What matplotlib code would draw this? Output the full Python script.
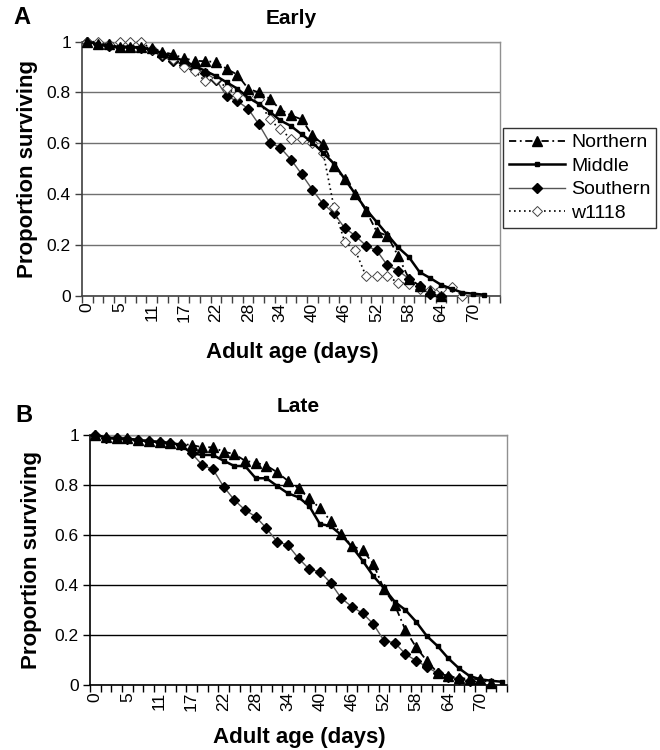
import numpy as np
import matplotlib
matplotlib.use('Agg')
import matplotlib.pyplot as plt

plt.rcParams['font.family'] = ['Liberation Sans', 'DejaVu Sans']

nan = np.nan

# adult age (days) for each census, Excel category axis
days = [0, 2, 3, 5, 7, 9, 11, 13, 15, 17, 18, 20, 22, 24, 26, 28, 30, 32, 34, 36,
        38, 40, 42, 44, 46, 48, 50, 52, 54, 56, 58, 60, 62, 64, 66, 68, 70, 72, 74]

# early season
north_early = [1.0, 0.99, 0.99, 0.98, 0.98, 0.98, 0.975, 0.96, 0.95, 0.935, 0.925, 0.923, 0.92,
               0.893, 0.87, 0.815, 0.80, 0.776, 0.733, 0.71, 0.694, 0.631, 0.596, 0.51, 0.459,
               0.40, 0.335, 0.252, 0.236, 0.156, 0.067, 0.04, 0.02, 0.0, nan, nan, nan, nan, nan]
middle_early = [1.0, 0.99, 0.98, 0.98, 0.98, 0.975, 0.97, 0.955, 0.94, 0.925, 0.905, 0.885, 0.865,
                0.84, 0.815, 0.78, 0.755, 0.725, 0.69, 0.668, 0.635, 0.603, 0.563, 0.52, 0.46,
                0.40, 0.34, 0.29, 0.24, 0.19, 0.152, 0.093, 0.069, 0.043, 0.027, 0.012, 0.008,
                0.004, nan]
south_early = [1.0, 0.99, 0.985, 0.98, 0.98, 0.975, 0.969, 0.942, 0.923, 0.91, 0.893, 0.877, 0.851,
               0.785, 0.766, 0.736, 0.675, 0.603, 0.583, 0.536, 0.478, 0.417, 0.361, 0.325, 0.267,
               0.236, 0.197, 0.178, 0.119, 0.099, 0.067, 0.038, 0.008, 0.0, nan, nan, nan, nan, nan]
w1118_early = [1.0, 1.0, 0.99, 1.0, 1.0, 1.0, 0.97, 0.95, 0.93, 0.90, 0.884, 0.845, 0.854, 0.818,
               0.79, 0.79, 0.773, 0.694, 0.655, 0.618, 0.618, 0.60, 0.563, 0.35, 0.213, 0.178,
               0.077, 0.077, 0.077, 0.051, 0.047, 0.027, 0.021, 0.027, 0.034, 0.0, nan, nan, nan]

# late season
north_late = [1.0, 0.993, 0.987, 0.987, 0.98, 0.977, 0.973, 0.967, 0.964, 0.96, 0.951, 0.951, 0.933,
              0.924, 0.897, 0.889, 0.878, 0.851, 0.817, 0.787, 0.747, 0.707, 0.657, 0.604, 0.556,
              0.54, 0.484, 0.383, 0.32, 0.22, 0.151, 0.097, 0.049, 0.036, 0.027, 0.025, 0.023,
              0.007, nan]
middle_late = [1.0, 0.99, 0.985, 0.985, 0.98, 0.975, 0.972, 0.968, 0.96, 0.927, 0.92, 0.92, 0.897,
               0.876, 0.876, 0.827, 0.827, 0.796, 0.767, 0.751, 0.716, 0.644, 0.636, 0.60, 0.553,
               0.497, 0.436, 0.387, 0.333, 0.30, 0.253, 0.196, 0.156, 0.107, 0.067, 0.036, 0.023,
               0.017, 0.013]
south_late = [1.0, 0.99, 0.987, 0.985, 0.98, 0.977, 0.972, 0.967, 0.96, 0.927, 0.88, 0.863, 0.793,
              0.74, 0.70, 0.673, 0.627, 0.573, 0.56, 0.507, 0.463, 0.453, 0.409, 0.347, 0.313,
              0.287, 0.244, 0.177, 0.169, 0.124, 0.097, 0.073, 0.047, 0.033, 0.023, 0.017,
              nan, nan, nan]

yticks = [0, 0.2, 0.4, 0.6, 0.8, 1.0]
ytick_labels = ['0', '0.2', '0.4', '0.6', '0.8', '1']


def draw_panel(ax, north, middle, south, w1118=None, grid_col='#707070', axis_col='#404040'):
    x = np.arange(len(days))
    ax.plot(x, south, color='#555555', lw=1.0, marker='D', ms=5, mfc='k', mec='k',
            label='Southern', clip_on=False, zorder=3)
    if w1118 is not None:
        ax.plot(x, w1118, color='k', ls=(0, (1, 2)), lw=1.2, marker='D', ms=5, mfc='white',
                mec='#444444', mew=0.7, label='w1118', clip_on=False, zorder=3)
    ax.plot(x, middle, color='k', lw=1.8, marker='s', ms=3, label='Middle', clip_on=False, zorder=4)
    ax.plot(x, north, color='k', ls=(0, (4, 2, 1, 2)), lw=1.3, marker='^', ms=6.5,
            label='Northern', clip_on=False, zorder=4)

    ax.set_xlim(-0.5, len(days) - 0.5)
    ax.set_ylim(0, 1)
    ax.set_yticks(yticks)
    ax.set_yticklabels(ytick_labels, fontsize=12.5)
    ax.yaxis.grid(True, color=grid_col, lw=1.0)
    ax.set_axisbelow(True)

    ax.set_xticks(np.arange(-0.5, len(days), 1))
    ax.set_xticklabels([])
    ax.set_xticks(np.arange(0, len(days), 3), minor=True)
    ax.set_xticklabels([str(d) for d in days[::3]][:13], minor=True, rotation=90, fontsize=12.5)
    ax.tick_params(axis='x', which='major', direction='out', length=5, width=1, color=axis_col)
    ax.tick_params(axis='x', which='minor', length=0, pad=5)
    ax.tick_params(axis='y', direction='out', length=5, width=1, color=axis_col, pad=3)

    for side in ['left', 'bottom']:
        ax.spines[side].set_color(axis_col)
        ax.spines[side].set_linewidth(1.2)
    for side in ['top', 'right']:
        ax.spines[side].set_color('#909090')
        ax.spines[side].set_linewidth(1.0)

    ax.set_ylabel('Proportion surviving', fontsize=16, fontweight='bold')
    ax.set_xlabel('Adult age (days)', fontsize=16, fontweight='bold')


fig = plt.figure(figsize=(6.6, 7.5), dpi=100)
axA = fig.add_axes([82/660, 1 - 295.7/750, 418/660, 254/750])
axB = fig.add_axes([90/660, 1 - 685/750, 417/660, 250/750])

draw_panel(axA, north_early, middle_early, south_early, w1118_early)
draw_panel(axB, north_late, middle_late, south_late, grid_col='k', axis_col='k')

axA.yaxis.set_label_coords(-0.105, 0.5)
axB.yaxis.set_label_coords(-0.115, 0.5)
axA.xaxis.set_label_coords(0.502, -0.182)
axB.xaxis.set_label_coords(0.502, -0.168)

fig.text(291/660, 1 - 18/750, 'Early', fontsize=15, fontweight='bold', ha='center', va='center')
fig.text(298/660, 1 - 407/750, 'Late', fontsize=15, fontweight='bold', ha='center', va='center')
fig.text(22/660, 1 - 18/750, 'A', fontsize=17, fontweight='bold', ha='center', va='center')
fig.text(24/660, 1 - 415/750, 'B', fontsize=17, fontweight='bold', ha='center', va='center')

h, l = axA.get_legend_handles_labels()
order = ['Northern', 'Middle', 'Southern', 'w1118']
hd = dict(zip(l, h))
leg = fig.legend([hd[k] for k in order], order, loc='upper left',
                 bbox_to_anchor=(503/660, 1 - 128/750), frameon=True, fancybox=False,
                 edgecolor='k', fontsize=14, handlelength=2.9, labelspacing=0.3,
                 borderpad=0.3, handletextpad=0.3, borderaxespad=0)
leg.get_frame().set_linewidth(1.0)

fig.savefig('out.png', dpi=100)
